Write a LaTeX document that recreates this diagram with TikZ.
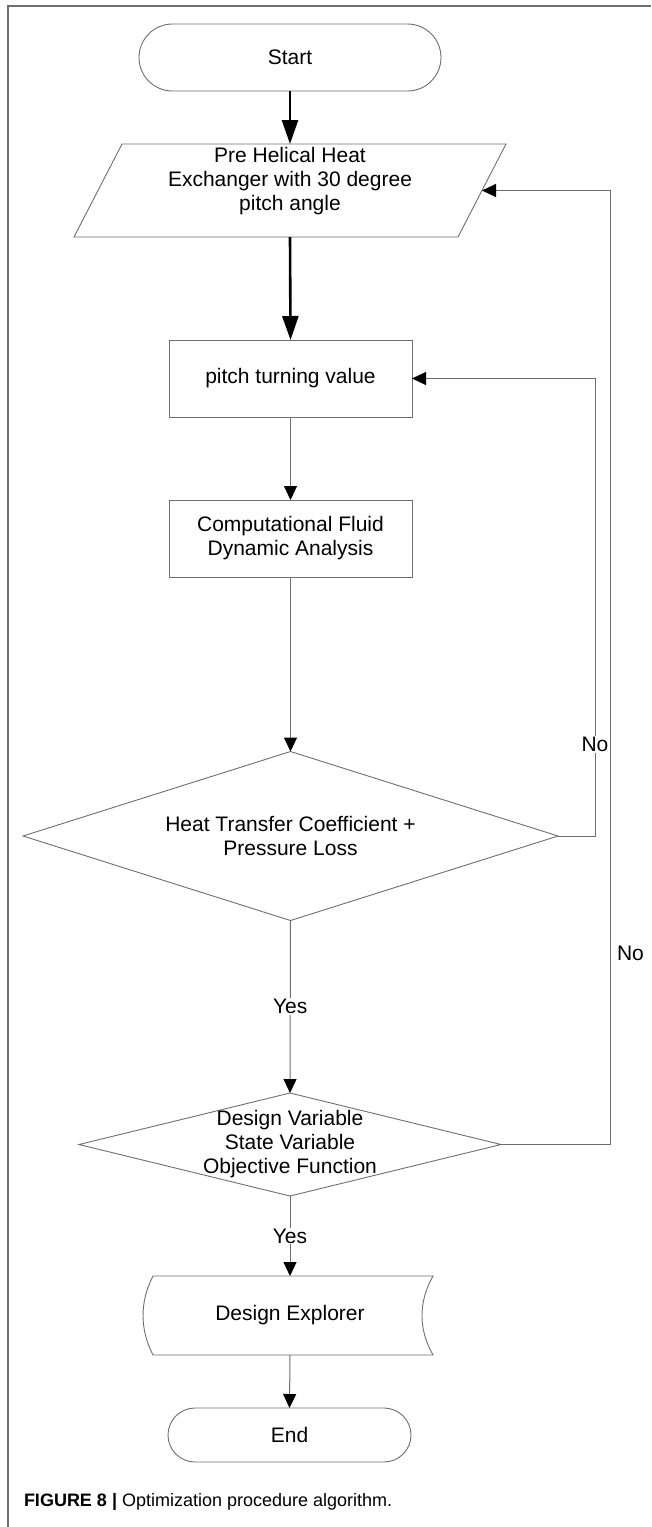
\documentclass[tikz,border=0pt]{standalone}
\usepackage{fontspec}
\setmainfont{Liberation Sans}
\usetikzlibrary{arrows.meta, shapes.geometric, shapes.misc, positioning}
\definecolor{lgray}{RGB}{110,110,110}

\begin{document}
\begin{tikzpicture}[x=1pt, y=-1pt,
  every node/.style={font=\fontsize{21}{24}\selectfont, inner sep=0pt, outer sep=0pt},
  term/.style={rounded rectangle, draw=lgray, line width=0.9pt},
  procbox/.style={rectangle, draw=lgray, line width=0.9pt, minimum width=243pt, minimum height=77pt},
  decide/.style={diamond, draw=lgray, line width=0.9pt},
  flow/.style={draw=lgray, line width=1pt, -{Triangle[length=14pt,width=13pt,color=black]}},
  bigflow/.style={draw=black, line width=2.6pt, -{Triangle[length=24pt,width=16pt]}},
  tag/.style={fill=white, inner sep=1pt}]
\useasboundingbox (0,0) rectangle (651,1527);

% frame
\draw[lgray, line width=1.5pt] (651,6) -- (8,6) -- (8,1527);

\node[term, minimum width=302pt, minimum height=67pt] (start) at (290,57.5) {Start};

% input shape
\node[minimum width=384pt, minimum height=93pt] (pre) at (290,190.5) {};
\draw[lgray, line width=0.9pt] ([xshift=24pt]pre.north west) -- ([xshift=24pt]pre.north east)
  -- ([xshift=-24pt]pre.south east) -- ([xshift=-24pt]pre.south west) -- cycle;
\node[align=center] (pretext) at (290,181) {Pre Helical Heat\\Exchanger with 30 degree\\pitch angle};

\node[procbox] (turn) at (290.5,378.5) {pitch turning value};
\node[procbox, align=center] (cfd) at (290.5,538.5) {Computational Fluid\\Dynamic Analysis};

\node[decide, aspect=3.17, minimum width=535pt, minimum height=169pt, align=center] (htc) at (290.5,836)
  {Heat Transfer Coefficient +\\Pressure Loss};

\node[decide, minimum width=422pt, minimum height=103pt] (dv) at (290,1144.5) {};
\node[align=center] (dvtext) at (290,1144) {Design Variable\\State Variable\\Objective Function};

% stored data shape
\node[minimum width=280pt, minimum height=79pt] (de) at (290,1315.5) {Design Explorer};
\draw[lgray, line width=0.9pt] ([xshift=3pt]de.north west) -- ([xshift=3pt]de.north east)
  .. controls +(-14.7,26) and +(-14.7,-26) .. ([xshift=3pt]de.south east)
  -- ([xshift=3pt]de.south west)
  .. controls +(-13.3,-26) and +(-13.3,26) .. ([xshift=3pt]de.north west) -- cycle;

\node[term, minimum width=243pt, minimum height=54pt] (finish) at (289.5,1435) {End};

% connectors
\draw[bigflow] (start.south) -- (pre.north);
\draw[bigflow] (pre.south) -- (turn.north);
\draw[flow] (turn.south) -- (cfd.north);
\draw[flow] (cfd.south) -- (htc.north);
\draw[flow] (htc.south) -- node[tag] {Yes} (dv.north);
\draw[flow] (dv.south) -- node[tag] {Yes} (de.north);
\draw[flow] (de.south) -- (finish.north);
\draw[flow] (htc.east) -- ++(37,0) |- node[tag, pos=0.1] {No} (turn.east);
\draw[flow] (dv.east) -- ++(109,0) |- node[right=7pt, pos=0.1] {No} (pre.east);

\node[anchor=west, font=\fontsize{18}{21}\selectfont] (caption) at (24,1502)
  {\textbf{FIGURE 8 |} Optimization procedure algorithm.};
\end{tikzpicture}
\end{document}
